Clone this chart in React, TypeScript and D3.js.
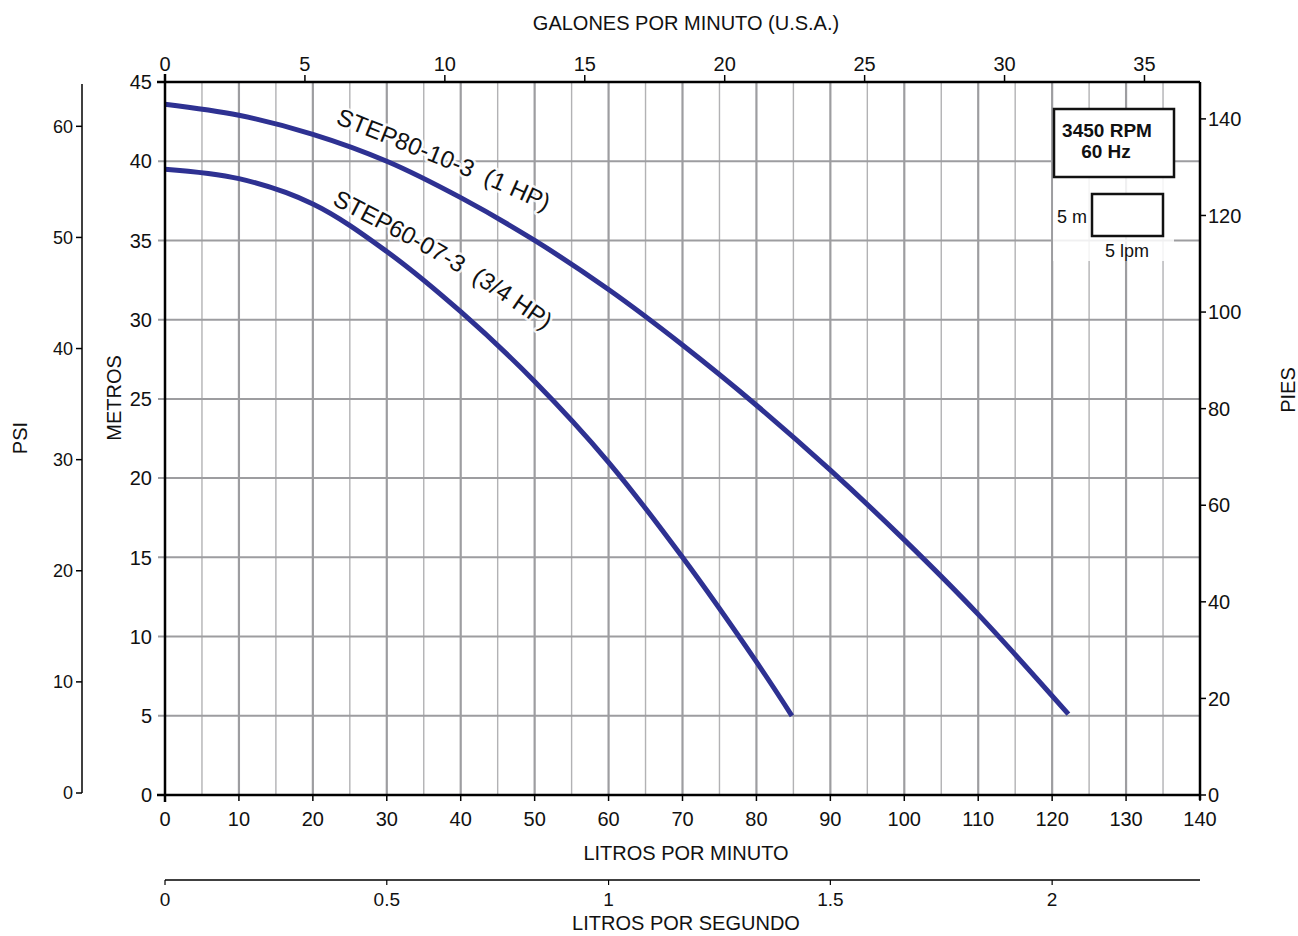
import React from "react";
import * as d3 from "d3";

// ---- data ----
const lpm80 = [0, 10, 20, 30, 40, 50, 60, 70, 80, 90, 100, 110, 122.2];
const head80 = [43.6, 42.9, 41.7, 40.0, 37.7, 35.0, 31.9, 28.4, 24.6, 20.5, 16.1, 11.4, 5.1];
const lpm60 = [0, 10, 20, 30, 40, 50, 60, 70, 80, 84.8];
const head60 = [39.5, 38.9, 37.3, 34.3, 30.5, 26.1, 21.0, 15.0, 8.4, 5.0];

const label80 = "STEP80-10-3\u00a0\u00a0(1 HP)";
const label60 = "STEP60-07-3\u00a0\u00a0(3/4 HP)";

const lpmTicks = [0, 10, 20, 30, 40, 50, 60, 70, 80, 90, 100, 110, 120, 130, 140];
const metrosTicks = [0, 5, 10, 15, 20, 25, 30, 35, 40, 45];
const gpmTicks = [0, 5, 10, 15, 20, 25, 30, 35];
const psiTicks = [0, 10, 20, 30, 40, 50, 60];
const piesTicks = [0, 20, 40, 60, 80, 100, 120, 140];
const lpsTicks = [0, 0.5, 1, 1.5, 2];

const FONT = "'Liberation Sans', Arial, Helvetica, sans-serif";
const CURVE = "#2e3192";
const GRID = "#9d9da0";
const GRID_MINOR = "#b2b2b4";

export default function App() {
  const x = d3.scaleLinear().domain([0, 140]).range([165, 1200]);
  const y = d3.scaleLinear().domain([0, 45]).range([795, 82]);
  const xg = d3.scaleLinear().domain([0, 140 / 3.78541]).range([165, 1200]);
  const yPsi = d3.scaleLinear().domain([0, 45 * 1.42197]).range([793, 82]);
  const yFt = d3.scaleLinear().domain([0, 45 / 0.3048]).range([795, 82]);
  const xLps = d3.scaleLinear().domain([0, 140 / 60]).range([165, 1200]);

  const pts80 = lpm80.map((q, i) => [q, head80[i]] as [number, number]);
  const pts60 = lpm60.map((q, i) => [q, head60[i]] as [number, number]);

  const line = d3
    .line<[number, number]>()
    .x((d) => x(d[0]))
    .y((d) => y(d[1]))
    .curve(d3.curveCatmullRom.alpha(0.5));

  // label baselines (annotation placement, in data units)
  const labelLine = d3
    .line<[number, number]>()
    .x((d) => x(d[0]))
    .y((d) => y(d[1]))
    .curve(d3.curveNatural);
  const lab80: [number, number][] = [
    [23, 42.4],
    [41, 39.0],
    [54, 36.3],
  ];
  const lab60: [number, number][] = [
    [22.5, 37.3],
    [40.2, 32.8],
    [55, 28.1],
  ];

  const minorX = d3.range(5, 140, 5);
  const gridY = [5, 10, 15, 20, 25, 30, 35, 40];

  const labelProps = {
    fontSize: 24,
    fill: "#111",
    stroke: "#fff",
    strokeOpacity: 0.8,
    strokeWidth: 5,
    paintOrder: "stroke",
    strokeLinejoin: "round" as const,
  };

  return (
    <svg
      width={1298}
      height={936}
      style={{ position: "absolute", left: 0, top: 0, background: "#fff" }}
      fontFamily={FONT}
    >
      <rect x={0} y={0} width={1298} height={936} fill="#fff" />
      <defs>
        <path id="lab80" d={labelLine(lab80) || ""} />
        <path id="lab60" d={labelLine(lab60) || ""} />
      </defs>

      {/* vertical grid */}
      {minorX.map((v) => {
        const major = v % 10 === 0;
        return (
          <line
            key={"vx" + v}
            x1={x(v)}
            x2={x(v)}
            y1={y(45)}
            y2={y(0)}
            stroke={major ? GRID : GRID_MINOR}
            strokeWidth={major ? 2.2 : 1.4}
          />
        );
      })}
      {/* horizontal grid */}
      {gridY.map((v) => (
        <line key={"hy" + v} x1={158} x2={x(140)} y1={y(v)} y2={y(v)} stroke={GRID} strokeWidth={2} />
      ))}

      {/* legend white background */}
      <rect x={1053} y={178} width={121} height={83} fill="#fff" fillOpacity={0.85} />

      {/* curves */}
      <path d={line(pts80) || ""} fill="none" stroke={CURVE} strokeWidth={5} />
      <path d={line(pts60) || ""} fill="none" stroke={CURVE} strokeWidth={5} />

      {/* curve labels */}
      <text {...labelProps}>
        <textPath href="#lab80" startOffset={0}>
          {label80}
        </textPath>
      </text>
      <text {...labelProps}>
        <textPath href="#lab60" startOffset={0}>
          {label60}
        </textPath>
      </text>

      {/* frame axes */}
      <line x1={x(0)} x2={x(140)} y1={y(45)} y2={y(45)} stroke="#000" strokeWidth={2.5} />
      <line x1={x(0)} x2={x(140) + 1} y1={y(0)} y2={y(0)} stroke="#000" strokeWidth={2.5} />
      <line x1={x(0)} x2={x(0)} y1={y(45) - 8} y2={y(0) + 7} stroke="#000" strokeWidth={2.5} />
      <line x1={x(140)} x2={x(140)} y1={y(45)} y2={y(0) + 5} stroke="#000" strokeWidth={2.5} />

      {/* left metros ticks */}
      <line x1={157} x2={x(0)} y1={y(45)} y2={y(45)} stroke="#000" strokeWidth={2.5} />
      <line x1={157} x2={x(0)} y1={y(0)} y2={y(0)} stroke="#000" strokeWidth={2.5} />
      {metrosTicks.map((v) => (
        <text key={"m" + v} x={152} y={y(v)} dy="0.36em" textAnchor="end" fontSize={20} fill="#111">
          {v}
        </text>
      ))}
      <text transform="translate(121,398) rotate(-90)" textAnchor="middle" fontSize={20} fill="#111">
        METROS
      </text>

      {/* top GPM axis */}
      {gpmTicks.map((v) => (
        <g key={"g" + v}>
          <line x1={xg(v)} x2={xg(v)} y1={y(45)} y2={y(45) - 7} stroke="#000" strokeWidth={1.5} />
          <text x={xg(v)} y={71} textAnchor="middle" fontSize={20} fill="#111">
            {v}
          </text>
        </g>
      ))}
      <text x={686} y={30} textAnchor="middle" fontSize={20} fill="#111">
        GALONES POR MINUTO (U.S.A.)
      </text>

      {/* bottom LPM axis */}
      {lpmTicks.map((v) => (
        <g key={"l" + v}>
          <line x1={x(v)} x2={x(v)} y1={y(0)} y2={y(0) + 6} stroke="#000" strokeWidth={1.5} />
          <text x={x(v)} y={826} textAnchor="middle" fontSize={20} fill="#111">
            {v}
          </text>
        </g>
      ))}
      <text x={686} y={860} textAnchor="middle" fontSize={20} fill="#111">
        LITROS POR MINUTO
      </text>

      {/* LPS axis */}
      <line x1={x(0)} x2={x(140)} y1={880} y2={880} stroke="#000" strokeWidth={1.5} />
      {lpsTicks.map((v) => (
        <g key={"s" + v}>
          <line x1={xLps(v)} x2={xLps(v)} y1={880} y2={885} stroke="#000" strokeWidth={1.2} />
          <text x={xLps(v)} y={906} textAnchor="middle" fontSize={19} fill="#111">
            {v}
          </text>
        </g>
      ))}
      <text x={686} y={930} textAnchor="middle" fontSize={20} fill="#111">
        LITROS POR SEGUNDO
      </text>

      {/* PSI axis */}
      <line x1={82} x2={82} y1={84} y2={yPsi(0)} stroke="#000" strokeWidth={1.5} />
      {psiTicks.map((v) => (
        <g key={"p" + v}>
          <line x1={76} x2={82} y1={yPsi(v)} y2={yPsi(v)} stroke="#000" strokeWidth={1.5} />
          <text x={73} y={yPsi(v)} dy="0.36em" textAnchor="end" fontSize={18} fill="#111">
            {v}
          </text>
        </g>
      ))}
      <text transform="translate(27,438) rotate(-90)" textAnchor="middle" fontSize={20} fill="#111">
        PSI
      </text>

      {/* PIES axis */}
      {piesTicks.map((v) => (
        <g key={"f" + v}>
          <line x1={x(140)} x2={x(140) + 6} y1={yFt(v)} y2={yFt(v)} stroke="#000" strokeWidth={1.5} />
          <text x={1208} y={yFt(v)} dy="0.36em" textAnchor="start" fontSize={20} fill="#111">
            {v}
          </text>
        </g>
      ))}
      <text transform="translate(1295,390) rotate(-90)" textAnchor="middle" fontSize={20} fill="#111">
        PIES
      </text>

      {/* legend */}
      <rect x={1054} y={109} width={120} height={68} fill="#fff" stroke="#111" strokeWidth={2.5} />
      <text x={1107} y={137} textAnchor="middle" fontSize={19} fontWeight="bold" fill="#111">
        3450 RPM
      </text>
      <text x={1106} y={158} textAnchor="middle" fontSize={19} fontWeight="bold" fill="#111">
        60 Hz
      </text>
      <rect x={1092} y={194} width={71} height={42} fill="#fff" stroke="#111" strokeWidth={2.5} />
      <text x={1087} y={223} textAnchor="end" fontSize={18} fill="#111">
        5 m
      </text>
      <text x={1127} y={257} textAnchor="middle" fontSize={18} fill="#111">
        5 lpm
      </text>
    </svg>
  );
}
